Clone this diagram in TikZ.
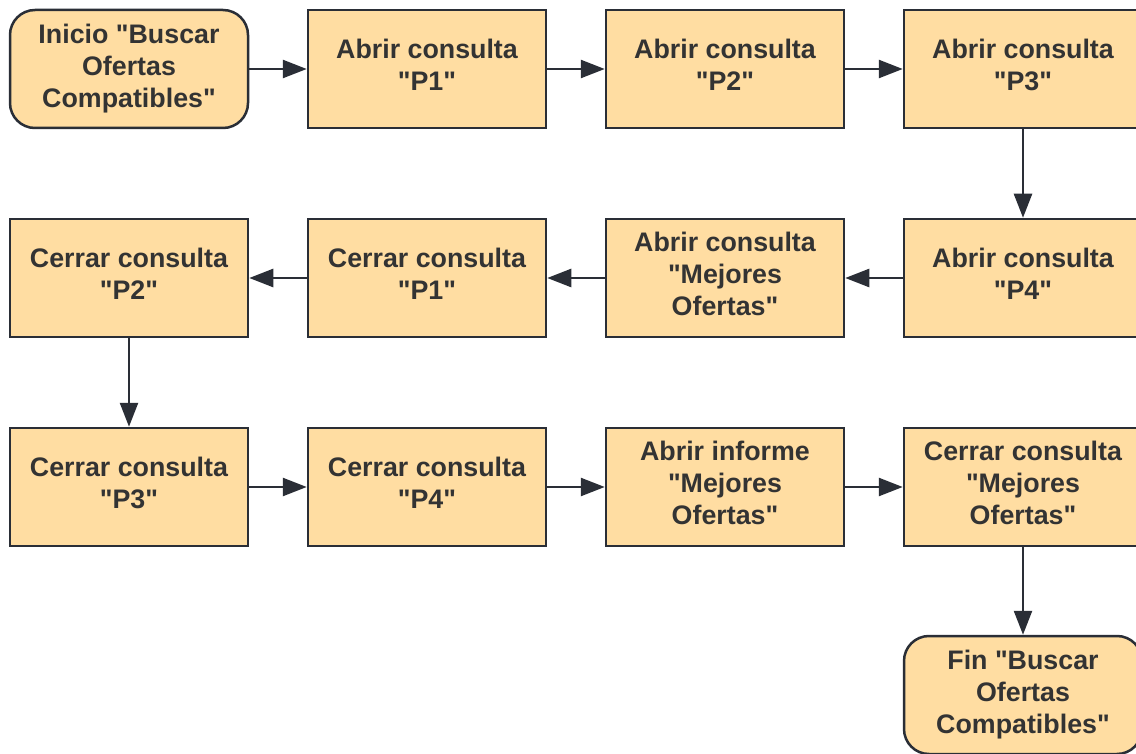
\documentclass[tikz,border=0pt]{standalone}
\usepackage{fontspec}
\setmainfont{Liberation Sans}[Ligatures=TeXOff]
\usetikzlibrary{arrows.meta}
\definecolor{boxfill}{HTML}{FFDDA2}
\definecolor{boxline}{HTML}{2A2E36}
\definecolor{txt}{HTML}{333333}
\begin{document}
\begin{tikzpicture}[x=1pt,y=-1pt,
  stepbox/.style={draw=boxline, fill=boxfill, line width=2.5pt,
    minimum width=238pt, minimum height=118pt, inner sep=0pt},
  termbox/.style={stepbox, rounded corners=25pt},
  lbl/.style={inner sep=0pt, align=center, text=txt,
    font=\fontsize{26.8}{32}\selectfont\bfseries},
  conn/.style={draw=boxline, line width=2.5pt,
    -{Triangle[length=24pt,width=18pt]}}
]
\useasboundingbox (0,0) rectangle (1136,754);
\fill[white] (0,0) rectangle (1136,754);
\begin{scope}
\clip (0,0) rectangle (1136,754);
% boxes
\node[termbox] (start) at (129,69) {};
\node[stepbox] (a1) at (427,69) {};
\node[stepbox] (a2) at (725,69) {};
\node[stepbox] (a3) at (1023,69) {};
\node[stepbox] (a4) at (1023,278) {};
\node[stepbox] (am) at (725,278) {};
\node[stepbox] (c1) at (427,278) {};
\node[stepbox] (c2) at (129,278) {};
\node[stepbox] (c3) at (129,487) {};
\node[stepbox] (c4) at (427,487) {};
\node[stepbox] (im) at (725,487) {};
\node[stepbox] (cm) at (1023,487) {};
\node[termbox] (fin) at (1023,695) {};
% texts
\node[lbl] (startT) at (start.center) {Inicio "Buscar\\Ofertas\\Compatibles"};
\node[lbl] (a1T) at ([yshift=4pt]a1.center) {Abrir consulta\\"P1"};
\node[lbl] (a2T) at ([yshift=4pt]a2.center) {Abrir consulta\\"P2"};
\node[lbl] (a3T) at ([yshift=4pt]a3.center) {Abrir consulta\\"P3"};
\node[lbl] (a4T) at ([yshift=4pt]a4.center) {Abrir consulta\\"P4"};
\node[lbl] (amT) at ([yshift=4pt]am.center) {Abrir consulta\\"Mejores\\Ofertas"};
\node[lbl] (c1T) at ([yshift=4pt]c1.center) {Cerrar consulta\\"P1"};
\node[lbl] (c2T) at ([yshift=4pt]c2.center) {Cerrar consulta\\"P2"};
\node[lbl] (c3T) at ([yshift=4pt]c3.center) {Cerrar consulta\\"P3"};
\node[lbl] (c4T) at ([yshift=4pt]c4.center) {Cerrar consulta\\"P4"};
\node[lbl] (imT) at ([yshift=4pt]im.center) {Abrir informe\\"Mejores\\Ofertas"};
\node[lbl] (cmT) at ([yshift=4pt]cm.center) {Cerrar consulta\\"Mejores\\Ofertas"};
\node[lbl] (finT) at (fin.center) {Fin "Buscar\\Ofertas\\Compatibles"};
% connectors
\draw[conn] (start) -- (a1);
\draw[conn] (a1) -- (a2);
\draw[conn] (a2) -- (a3);
\draw[conn] (a3) -- (a4);
\draw[conn] (a4) -- (am);
\draw[conn] (am) -- (c1);
\draw[conn] (c1) -- (c2);
\draw[conn] (c2) -- (c3);
\draw[conn] (c3) -- (c4);
\draw[conn] (c4) -- (im);
\draw[conn] (im) -- (cm);
\draw[conn] (cm) -- (fin);
\end{scope}
\end{tikzpicture}
\end{document}
